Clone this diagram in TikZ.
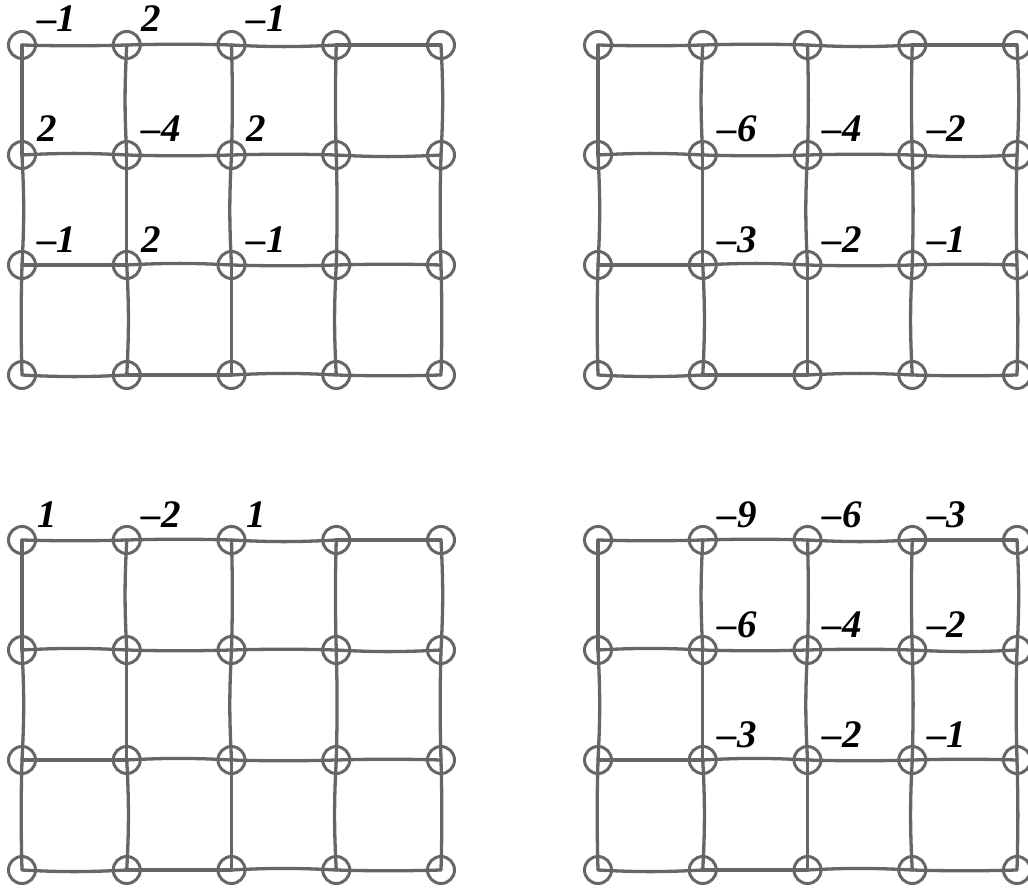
\documentclass[tikz,border=0pt]{standalone}
\usepackage{fontspec}
\newfontfamily\numfont{Liberation Serif}[Ligatures=TeX]
\definecolor{gline}{HTML}{666666}
\tikzset{
  gridline/.style={draw=gline, line width=3.3pt, line cap=round, line join=round},
  vtx/.style={circle, draw=gline, line width=3pt, minimum size=27pt, inner sep=0pt},
  num/.style={anchor=base west, inner sep=0pt, font=\numfont\fontsize{39}{39}\selectfont\bfseries\itshape},
}
\begin{document}
\begin{tikzpicture}[x=1pt,y=-1pt]
\useasboundingbox (0,0) rectangle (1028,888);
\clip (0,0) rectangle (1028,888);
\foreach \p/\ox/\oy in {a/22/45, b/598/45, c/22/540, d/598/540} {
  \foreach \i in {0,...,4} {
    \foreach \j in {0,...,3} {
      \node[vtx] (\p-\i-\j) at ({\ox+104.75*\i},{\oy+110*\j}) {};
    }
  }
  \foreach \i [evaluate=\i as \ni using int(\i+1)] in {0,...,3} {
    \foreach \j in {0,...,3} {
      \pgfmathsetmacro\b{1.5*(mod(\i*7+\j*3+1,5)-2)}
      \draw[gridline] (\p-\i-\j.center) to[bend left=\b] (\p-\ni-\j.center);
    }
  }
  \foreach \i in {0,...,4} {
    \foreach \j [evaluate=\j as \nj using int(\j+1)] in {0,...,2} {
      \pgfmathsetmacro\b{1.5*(mod(\i*3+\j*7+2,5)-2)}
      \draw[gridline] (\p-\i-\j.center) to[bend left=\b] (\p-\i-\nj.center);
    }
  }
}
% labels
\foreach \p/\i/\j/\t in {
  a/0/0/–1, a/1/0/2, a/2/0/–1,
  a/0/1/2, a/1/1/–4, a/2/1/2,
  a/0/2/–1, a/1/2/2, a/2/2/–1,
  b/1/1/–6, b/2/1/–4, b/3/1/–2,
  b/1/2/–3, b/2/2/–2, b/3/2/–1,
  c/0/0/1, c/1/0/–2, c/2/0/1,
  d/1/0/–9, d/2/0/–6, d/3/0/–3,
  d/1/1/–6, d/2/1/–4, d/3/1/–2,
  d/1/2/–3, d/2/2/–2, d/3/2/–1} {
  \node[num] (l\p-\i-\j) at ([xshift=15pt,yshift=13pt]\p-\i-\j.center) {\t};
}
\end{tikzpicture}
\end{document}
